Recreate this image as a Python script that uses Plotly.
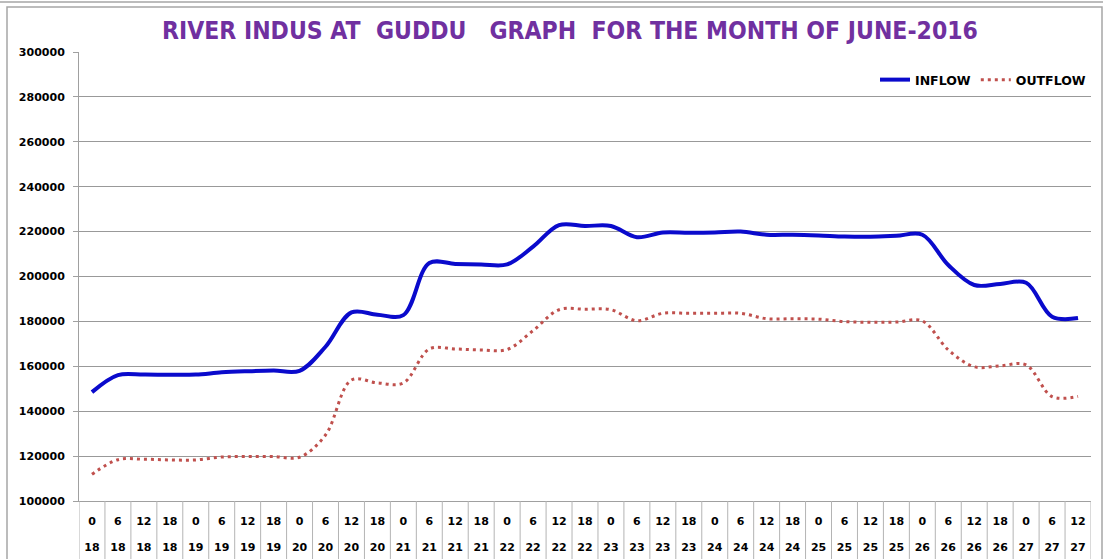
import plotly.graph_objects as go

hours = ["0", "6", "12", "18"] * 9 + ["0", "6", "12"]
days = [str(d) for d in range(18, 27) for _ in range(4)] + ["27", "27", "27"]

inflow = [148500, 156100, 156300, 156200, 156300, 157300, 157800, 158100, 158000,
          168700, 184000, 183000, 182800, 206000, 205600, 205400, 205400, 213300,
          222900, 222500, 222500, 217500, 219600, 219500, 219600, 220000, 218600,
          218600, 218300, 217800, 217700, 218100, 218600, 205100, 196200, 196700,
          197200, 182100, 181500]
outflow = [111900, 118400, 118600, 118300, 118300, 119600, 119800, 119800, 119500,
           129400, 153900, 152600, 152600, 167700, 167700, 167300, 167500, 175900,
           185200, 185400, 185200, 180300, 183600, 183600, 183600, 183600, 181200,
           181200, 181000, 179900, 179600, 179700, 180200, 167300, 159800, 160200,
           160600, 146500, 146600]

title_text = "RIVER INDUS AT&nbsp;&nbsp;GUDDU&nbsp;&nbsp;&nbsp;GRAPH&nbsp;&nbsp;FOR THE MONTH OF JUNE-2016"

idx = list(range(len(hours)))
W, H = 1110, 559
L, R, T, B = 79, 19, 52, 58
pw, ph = W - L - R, H - T - B

def px_x(p):
    return (p - L) / pw

def px_y(p):
    return (H - B - p) / ph

tickfont = dict(family="DejaVu Sans", size=11, color="black", weight="bold")
gray = "#A0A0A0"

fig = go.Figure()
fig.add_trace(go.Scatter(x=idx, y=inflow, name="INFLOW", mode="lines",
                         line=dict(color="#0A0ACC", width=4, shape="spline", smoothing=1)))
fig.add_trace(go.Scatter(x=idx, y=outflow, name="OUTFLOW", mode="lines", xaxis="x2",
                         line=dict(color="#C0504D", width=3, dash="3px,4px",
                                   shape="spline", smoothing=1)))

shapes = []
for k in range(len(hours) + 1):
    shapes.append(dict(type="line", xref="x", yref="paper", x0=k - 0.5, x1=k - 0.5,
                       y0=0, y1=px_y(H), line=dict(color="#B4B4B4", width=1)))
shapes.append(dict(type="rect", xref="paper", yref="paper", x0=px_x(7), x1=px_x(1102),
                   y0=px_y(H + 20), y1=px_y(7), line=dict(color="#A6A6A6", width=1.5),
                   layer="below"))
shapes.append(dict(type="line", xref="paper", yref="paper", x0=px_x(0), x1=px_x(1103),
                   y0=px_y(2), y1=px_y(2), line=dict(color="#A6A6A6", width=1.5)))

rng = [-0.5, len(hours) - 0.5]
fig.update_layout(
    width=W, height=H,
    margin=dict(l=L, r=R, t=T, b=B),
    paper_bgcolor="white", plot_bgcolor="white",
    title=dict(text=title_text, x=570 / W, xanchor="center", y=1 - 30 / H, yanchor="middle",
               font=dict(family="Liberation Sans Narrow, DejaVu Sans Condensed, sans-serif",
                         size=24.5, color="#7030A0", weight="bold")),
    xaxis=dict(range=rng, tickmode="array", tickvals=idx, ticktext=hours, showgrid=False,
               zeroline=False, showline=True, linecolor=gray, ticks="", tickfont=tickfont,
               ticklabelstandoff=10, automargin=False, fixedrange=True),
    xaxis2=dict(range=rng, overlaying="x", side="bottom", anchor="y", tickmode="array",
                tickvals=idx, ticktext=days, showgrid=False, zeroline=False, showline=False,
                ticks="", tickfont=tickfont, ticklabelstandoff=38, automargin=False),
    yaxis=dict(range=[100000, 300000], dtick=20000, tickformat="d", showgrid=True,
               gridcolor="#999999", gridwidth=1, zeroline=False, showline=True,
               linecolor=gray, ticks="outside", ticklen=5, tickcolor=gray,
               tickfont=tickfont, ticklabelstandoff=6, automargin=False),
    legend=dict(orientation="h", x=1, xanchor="right", y=px_y(80), yanchor="middle",
                font=dict(family="DejaVu Sans", size=12.5, color="black", weight="bold"),
                bgcolor="rgba(0,0,0,0)", itemwidth=30, tracegroupgap=0),
    shapes=shapes,
    showlegend=True,
)

fig.write_html("out.html", config={"displayModeBar": False},
               post_script="document.body.style.margin='0';")
